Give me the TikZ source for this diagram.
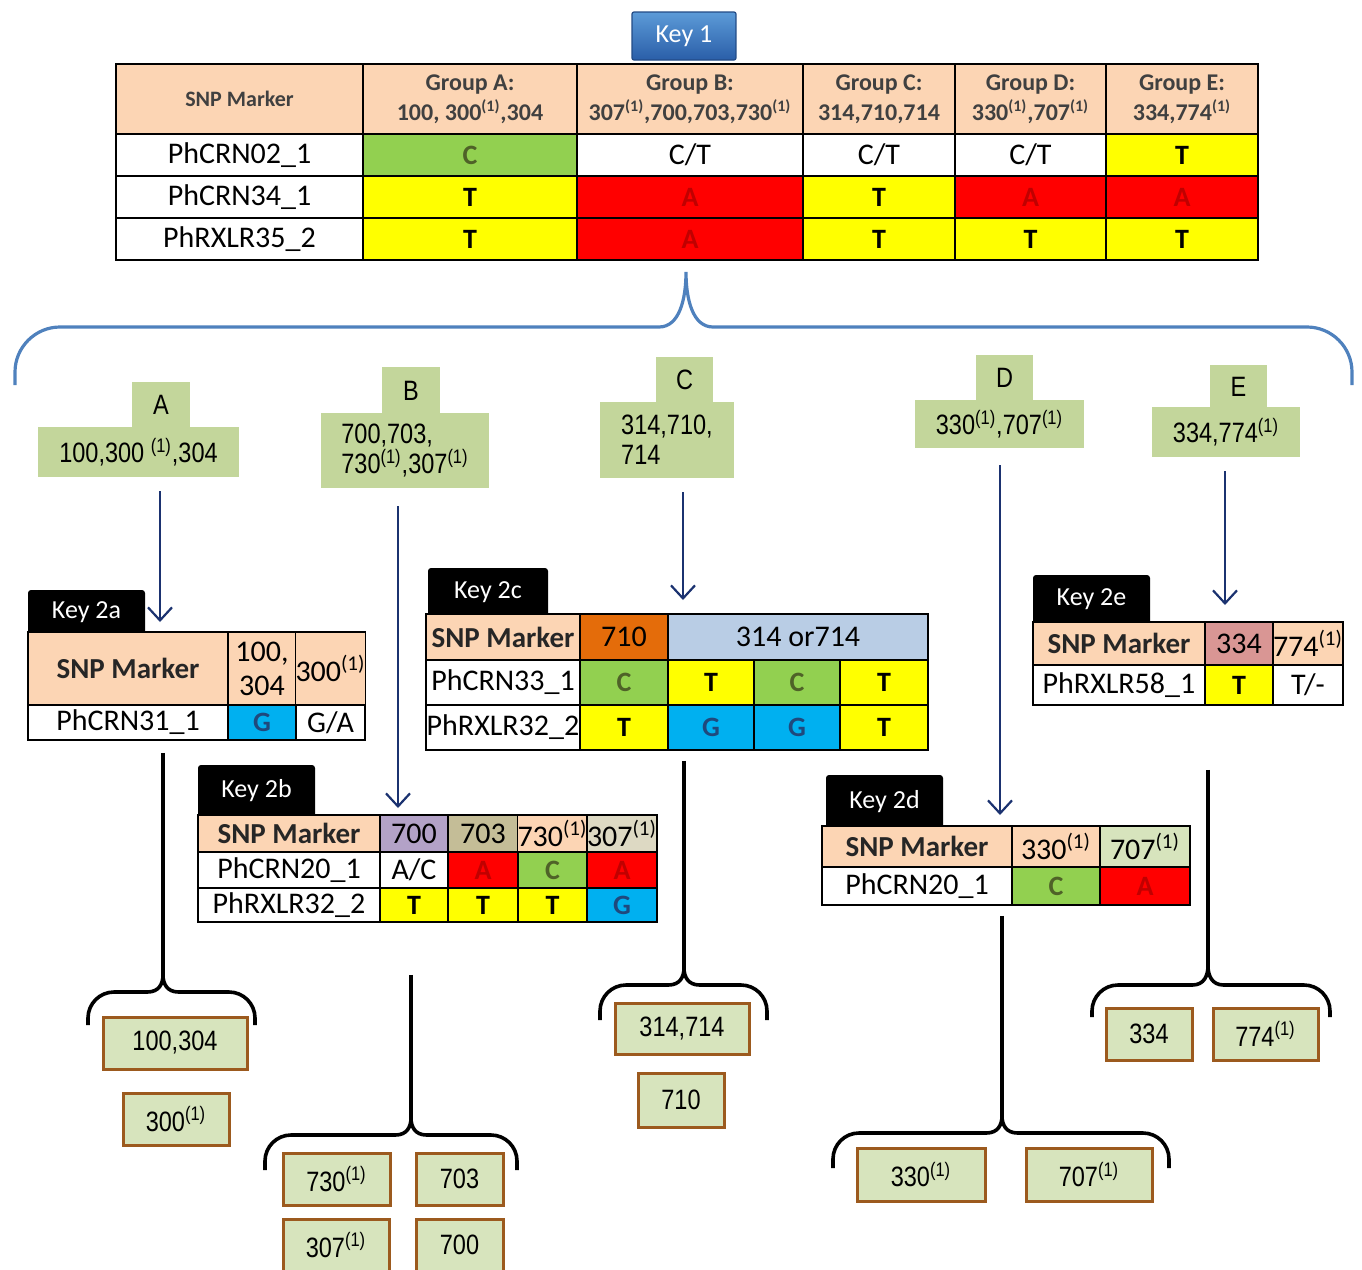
\documentclass[tikz,border=0pt]{standalone}
\usepackage{fontspec}
\setmainfont{Carlito}
\newfontfamily\narrowsans[FakeStretch=0.84]{Liberation Sans}
\usetikzlibrary{arrows.meta}

\definecolor{snpPeach}{HTML}{FCD5B4}
\definecolor{snpGreen}{HTML}{92D050}
\definecolor{snpDarkGreen}{HTML}{4F6228}
\definecolor{snpYellow}{HTML}{FFFF00}
\definecolor{snpRed}{HTML}{FF0000}
\definecolor{snpDarkRed}{HTML}{C00000}
\definecolor{snpBlue}{HTML}{00B0F0}
\definecolor{snpDarkBlue}{HTML}{1F497D}
\definecolor{snpLav}{HTML}{B3A2C7}
\definecolor{snpTan}{HTML}{C4BD97}
\definecolor{snpSand}{HTML}{DDD9C3}
\definecolor{snpOrange}{HTML}{E46C0A}
\definecolor{snpSky}{HTML}{B9CDE5}
\definecolor{snpSage}{HTML}{D7E4BD}
\definecolor{snpRose}{HTML}{D99694}
\definecolor{hdGray}{HTML}{404040}
\definecolor{grpGreen}{HTML}{C3D69B}
\definecolor{resGreen}{HTML}{D7E4BD}
\definecolor{resBrown}{HTML}{9C5A1E}
\definecolor{arrowNavy}{HTML}{1B3270}
\definecolor{braceBlue}{HTML}{4F81BD}
\definecolor{keyTop}{HTML}{5C9BD8}
\definecolor{keyBot}{HTML}{2A5EA8}

\newcommand{\labfont}{\fontsize{15}{17}\selectfont}
\newcommand{\valfont}{\fontsize{14}{16}\selectfont\bfseries}
\newcommand{\hdfont}{\fontsize{14.5}{16}\selectfont\bfseries}
\newcommand{\numfont}{\fontsize{15}{17}\selectfont}
\newcommand{\grpfont}{\fontsize{12}{15}\selectfont\bfseries}
\newcommand{\smallhdfont}{\fontsize{11}{13}\selectfont\bfseries}
\newcommand{\tagfont}{\fontsize{13}{15}\selectfont}
\newcommand{\idfont}{\narrowsans\fontsize{14}{15}\selectfont}

% one box from its corners: name, x1, y1, x2, y2, style, text
\newcommand{\cellbox}[7]{%
  \node[#6, minimum width={(#4-#2)*0.5pt}, minimum height={(#5-#3)*0.5pt}]
    (#1) at ({(#2+#4)/2},{(#3+#5)/2}) {#7};}

% curly brace: [style] tip name, left, middle, right, bar y, end y, tip y, radius
\newcommand{\splitbrace}[9][split]{%
  \coordinate (#2) at (#4,#8);
  \draw[#1] (#3,#7) -- (#3,#6+#9)
    .. controls (#3,#6+0.45*#9) and (#3+0.45*#9,#6) .. (#3+#9,#6)
    -- (#4-0.6*#9,#6)
    .. controls (#4-0.15*#9,#6) and (#4,#6*0.5+#8*0.5) .. (#4,#8)
    .. controls (#4,#6*0.5+#8*0.5) and (#4+0.15*#9,#6) .. (#4+0.6*#9,#6)
    -- (#5-#9,#6)
    .. controls (#5-0.45*#9,#6) and (#5,#6+0.45*#9) .. (#5,#6+#9)
    -- (#5,#7);}

\tikzset{
  >={Straight Barb[length=6.5pt, width=12pt]},
  cell/.style={draw=black, line width=0.8pt, inner sep=0pt, align=center},
  hd/.style={cell, fill=snpPeach, font=\hdfont, text=black!85},
  hdsmall/.style={cell, fill=snpPeach, font=\smallhdfont, text=hdGray},
  grouphd/.style={cell, fill=snpPeach, font=\grpfont, text=hdGray},
  hdnum/.style={cell, fill=snpPeach, font=\numfont},
  lab/.style={cell, fill=white, font=\labfont},
  mixed/.style={cell, fill=white, font=\labfont},
  baseA/.style={cell, fill=snpRed, text=snpDarkRed, font=\valfont},
  baseC/.style={cell, fill=snpGreen, text=snpDarkGreen, font=\valfont},
  baseG/.style={cell, fill=snpBlue, text=snpDarkBlue, font=\valfont},
  baseT/.style={cell, fill=snpYellow, font=\valfont},
  keyone/.style={top color=keyTop, bottom color=keyBot, draw=keyBot!80!black,
    line width=0.6pt, rounded corners=1pt, text=white, font=\tagfont},
  keytab/.style={fill=black, rounded corners=1.5pt, text=white, font=\tagfont},
  grp/.style={fill=grpGreen, inner sep=0pt, align=left, font=\idfont},
  res/.style={fill=resGreen, draw=resBrown, line width=1.5pt, inner sep=0pt,
    font=\idfont},
  flow/.style={->, draw=arrowNavy, line width=1.1pt, shorten <=7pt},
  split/.style={draw=black, line width=1.8pt},
  bluebrace/.style={draw=braceBlue, line width=1.6pt},
}

\begin{document}
\begin{tikzpicture}[x=0.5pt, y=-0.5pt]
  \useasboundingbox (0,0) rectangle (1362,1270);

  % ---- Key 1 -------------------------------------------------------------
  \cellbox{key1}{632}{12}{736}{60}{keyone}{Key 1}

  \cellbox{k1h0}{116}{64}{363}{134}{hdsmall}{SNP Marker}
  \cellbox{k1h1}{363}{64}{577}{134}{grouphd}{Group A:\\100, 300\textsuperscript{(1)},304}
  \cellbox{k1h2}{577}{64}{803}{134}{grouphd}{Group B:\\307\textsuperscript{(1)},700,703,730\textsuperscript{(1)}}
  \cellbox{k1h3}{803}{64}{955}{134}{grouphd}{Group C:\\314,710,714}
  \cellbox{k1h4}{955}{64}{1106}{134}{grouphd}{Group D:\\330\textsuperscript{(1)},707\textsuperscript{(1)}}
  \cellbox{k1h5}{1106}{64}{1258}{134}{grouphd}{Group E:\\334,774\textsuperscript{(1)}}

  \cellbox{k1r1c0}{116}{134}{363}{176}{lab}{PhCRN02\_1}
  \cellbox{k1r1c1}{363}{134}{577}{176}{baseC}{C}
  \cellbox{k1r1c2}{577}{134}{803}{176}{mixed}{C/T}
  \cellbox{k1r1c3}{803}{134}{955}{176}{mixed}{C/T}
  \cellbox{k1r1c4}{955}{134}{1106}{176}{mixed}{C/T}
  \cellbox{k1r1c5}{1106}{134}{1258}{176}{baseT}{T}

  \cellbox{k1r2c0}{116}{176}{363}{218}{lab}{PhCRN34\_1}
  \cellbox{k1r2c1}{363}{176}{577}{218}{baseT}{T}
  \cellbox{k1r2c2}{577}{176}{803}{218}{baseA}{A}
  \cellbox{k1r2c3}{803}{176}{955}{218}{baseT}{T}
  \cellbox{k1r2c4}{955}{176}{1106}{218}{baseA}{A}
  \cellbox{k1r2c5}{1106}{176}{1258}{218}{baseA}{A}

  \cellbox{k1r3c0}{116}{218}{363}{260}{lab}{PhRXLR35\_2}
  \cellbox{k1r3c1}{363}{218}{577}{260}{baseT}{T}
  \cellbox{k1r3c2}{577}{218}{803}{260}{baseA}{A}
  \cellbox{k1r3c3}{803}{218}{955}{260}{baseT}{T}
  \cellbox{k1r3c4}{955}{218}{1106}{260}{baseT}{T}
  \cellbox{k1r3c5}{1106}{218}{1258}{260}{baseT}{T}

  % big brace splitting the five groups
  \splitbrace[bluebrace]{topTip}{15}{686}{1352}{327}{385}{272}{45}

  % ---- Group labels ------------------------------------------------------
  \cellbox{gAtop}{132}{382}{190}{428}{grp}{A}
  \cellbox{gA}{38}{427}{239}{477}{grp}{100,300 \textsuperscript{(1)},304}
  \cellbox{gBtop}{382}{367}{440}{414}{grp}{B}
  \cellbox{gB}{321}{413}{489}{488}{grp}{700,703,\\730\textsuperscript{(1)},307\textsuperscript{(1)}}
  \cellbox{gCtop}{656}{357}{713}{403}{grp}{C}
  \cellbox{gC}{600}{402}{734}{478}{grp}{314,710,\\714}
  \cellbox{gDtop}{976}{355}{1033}{401}{grp}{D}
  \cellbox{gD}{915}{400}{1084}{448}{grp}{330\textsuperscript{(1)},707\textsuperscript{(1)}}
  \cellbox{gEtop}{1210}{365}{1267}{408}{grp}{E}
  \cellbox{gE}{1152}{407}{1300}{457}{grp}{334,774\textsuperscript{(1)}}

  % ---- Key 2a ------------------------------------------------------------
  \cellbox{key2a}{28}{590}{145}{634}{keytab}{Key 2a}
  \cellbox{k2aH0}{28}{632}{228}{705}{hd}{SNP Marker}
  \cellbox{k2aH1}{228}{632}{296}{705}{hdnum}{100,\\304}
  \cellbox{k2aH2}{296}{632}{365}{705}{hdnum}{300\textsuperscript{(1)}}
  \cellbox{k2aL}{28}{705}{228}{740}{lab}{PhCRN31\_1}
  \cellbox{k2aV1}{228}{705}{296}{740}{baseG}{G}
  \cellbox{k2aV2}{296}{705}{365}{740}{mixed}{G/A}

  % ---- Key 2b ------------------------------------------------------------
  \cellbox{key2b}{198}{765}{315}{817}{keytab}{Key 2b}
  \cellbox{k2bH0}{198}{815}{380}{852}{hd}{SNP Marker}
  \cellbox{k2bH1}{380}{815}{448}{852}{hdnum, fill=snpLav}{700}
  \cellbox{k2bH2}{448}{815}{518}{852}{hdnum, fill=snpTan}{703}
  \cellbox{k2bH3}{518}{815}{587}{852}{hdnum}{730\textsuperscript{(1)}}
  \cellbox{k2bH4}{587}{815}{657}{852}{hdnum, fill=snpSand}{307\textsuperscript{(1)}}
  \cellbox{k2bL1}{198}{852}{380}{888}{lab}{PhCRN20\_1}
  \cellbox{k2bV11}{380}{852}{448}{888}{mixed}{A/C}
  \cellbox{k2bV12}{448}{852}{518}{888}{baseA}{A}
  \cellbox{k2bV13}{518}{852}{587}{888}{baseC}{C}
  \cellbox{k2bV14}{587}{852}{657}{888}{baseA}{A}
  \cellbox{k2bL2}{198}{888}{380}{922}{lab}{PhRXLR32\_2}
  \cellbox{k2bV21}{380}{888}{448}{922}{baseT}{T}
  \cellbox{k2bV22}{448}{888}{518}{922}{baseT}{T}
  \cellbox{k2bV23}{518}{888}{587}{922}{baseT}{T}
  \cellbox{k2bV24}{587}{888}{657}{922}{baseG}{G}

  % ---- Key 2c ------------------------------------------------------------
  \cellbox{key2c}{428}{568}{548}{616}{keytab}{Key 2c}
  \cellbox{k2cH0}{426}{614}{580}{660}{hd}{SNP Marker}
  \cellbox{k2cH1}{580}{614}{668}{660}{hdnum, fill=snpOrange}{710}
  \cellbox{k2cH2}{668}{614}{928}{660}{hdnum, fill=snpSky}{314 or714}
  \cellbox{k2cL1}{426}{660}{580}{705}{lab}{PhCRN33\_1}
  \cellbox{k2cV11}{580}{660}{668}{705}{baseC}{C}
  \cellbox{k2cV12}{668}{660}{754}{705}{baseT}{T}
  \cellbox{k2cV13}{754}{660}{840}{705}{baseC}{C}
  \cellbox{k2cV14}{840}{660}{928}{705}{baseT}{T}
  \cellbox{k2cL2}{426}{705}{580}{750}{lab}{PhRXLR32\_2}
  \cellbox{k2cV21}{580}{705}{668}{750}{baseT}{T}
  \cellbox{k2cV22}{668}{705}{754}{750}{baseG}{G}
  \cellbox{k2cV23}{754}{705}{840}{750}{baseG}{G}
  \cellbox{k2cV24}{840}{705}{928}{750}{baseT}{T}

  % ---- Key 2d ------------------------------------------------------------
  \cellbox{key2d}{826}{775}{943}{828}{keytab}{Key 2d}
  \cellbox{k2dH0}{822}{826}{1012}{867}{hd}{SNP Marker}
  \cellbox{k2dH1}{1012}{826}{1100}{867}{hdnum}{330\textsuperscript{(1)}}
  \cellbox{k2dH2}{1100}{826}{1190}{867}{hdnum, fill=snpSage}{707\textsuperscript{(1)}}
  \cellbox{k2dL}{822}{867}{1012}{905}{lab}{PhCRN20\_1}
  \cellbox{k2dV1}{1012}{867}{1100}{905}{baseC}{C}
  \cellbox{k2dV2}{1100}{867}{1190}{905}{baseA}{A}

  % ---- Key 2e ------------------------------------------------------------
  \cellbox{key2e}{1033}{575}{1150}{624}{keytab}{Key 2e}
  \cellbox{k2eH0}{1033}{622}{1205}{665}{hd}{SNP Marker}
  \cellbox{k2eH1}{1205}{622}{1273}{665}{hdnum, fill=snpRose}{334}
  \cellbox{k2eH2}{1273}{622}{1343}{665}{hdnum}{774\textsuperscript{(1)}}
  \cellbox{k2eL}{1033}{665}{1205}{705}{lab}{PhRXLR58\_1}
  \cellbox{k2eV1}{1205}{665}{1273}{705}{baseT}{T}
  \cellbox{k2eV2}{1273}{665}{1343}{705}{mixed}{T/-}

  % ---- Arrows from the groups down to their keys -------------------------
  \coordinate (endA) at (160,622);
  \coordinate (endB) at (398,808);
  \coordinate (endC) at (683,600);
  \coordinate (endD) at (1000,815);
  \coordinate (endE) at (1225,605);
  \draw[flow] (gA.south -| endA) -- (endA);
  \draw[flow, shorten <=9pt] (gB.south -| endB) -- (endB);
  \draw[flow] (gC.south -| endC) -- (endC);
  \draw[flow, shorten <=8.5pt] (gD.south -| endD) -- (endD);
  \draw[flow] (gE.south -| endE) -- (endE);

  % ---- Braces under each key ---------------------------------------------
  \splitbrace{tipA}{88}{163}{255}{992}{1025}{975}{26}
  \splitbrace{tipB}{265}{411}{517}{1135}{1170}{1118}{26}
  \splitbrace{tipC}{600}{684}{767}{985}{1020}{968}{26}
  \splitbrace{tipD}{833}{1002}{1169}{1133}{1168}{1116}{26}
  \splitbrace{tipE}{1092}{1208}{1330}{985}{1017}{966}{26}

  \draw[split, shorten <=6pt] (k2aL.south -| tipA) -- (tipA);
  \draw[split, shorten <=26pt] (k2bL2.south -| tipB) -- (tipB);
  \draw[split, shorten <=5pt] (k2cL2.south -| tipC) -- (tipC);
  \draw[split, shorten <=5pt] (k2dL.south -| tipD) -- (tipD);
  \draw[split, shorten <=32pt] (k2eL.south -| tipE) -- (tipE);

  % ---- Resulting isolates ------------------------------------------------
  \cellbox{rA1}{103}{1017}{247}{1069}{res}{100,304}
  \cellbox{rA2}{123}{1093}{229}{1145}{res}{300\textsuperscript{(1)}}
  \cellbox{rB1}{283}{1153}{390}{1205}{res}{730\textsuperscript{(1)}}
  \cellbox{rB2}{416}{1153}{503}{1205}{res}{703}
  \cellbox{rB3}{283}{1219}{389}{1271}{res}{307\textsuperscript{(1)}}
  \cellbox{rB4}{416}{1219}{503}{1271}{res}{700}
  \cellbox{rC1}{615}{1003}{749}{1054}{res}{314,714}
  \cellbox{rC2}{638}{1073}{724}{1127}{res}{710}
  \cellbox{rD1}{857}{1148}{985}{1201}{res}{330\textsuperscript{(1)}}
  \cellbox{rD2}{1026}{1148}{1152}{1201}{res}{707\textsuperscript{(1)}}
  \cellbox{rE1}{1106}{1008}{1192}{1060}{res}{334}
  \cellbox{rE2}{1213}{1008}{1318}{1060}{res}{774\textsuperscript{(1)}}

\end{tikzpicture}
\end{document}
